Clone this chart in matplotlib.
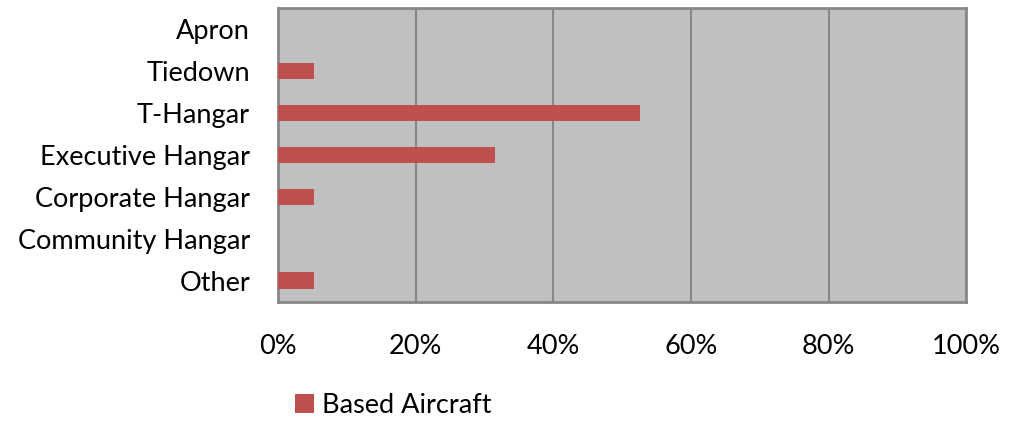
import numpy as np
import matplotlib.pyplot as plt
from matplotlib.ticker import PercentFormatter

# storage types, top to bottom
categories = ["Apron", "Tiedown", "T-Hangar", "Executive Hangar",
              "Corporate Hangar", "Community Hangar", "Other"]
based_aircraft = [0.0, 5.3, 52.6, 31.6, 5.3, 0.0, 5.3]
x_ticks = [0, 20, 40, 60, 80, 100]

plt.rcParams['font.family'] = ['Lato', 'DejaVu Sans']

fig = plt.figure(figsize=(10.14, 4.21), dpi=100)
ax = fig.add_axes([0.274, 0.283, 0.679, 0.698])

y = np.arange(len(categories))
ax.barh(y, based_aircraft, height=0.4, color='#C0504D', label='Based Aircraft', zorder=3)

ax.set_facecolor('#C0C0C0')
ax.set_xlim(0, 100)
ax.set_ylim(len(categories) - 0.5, -0.5)
ax.set_yticks(y)
ax.set_yticklabels(categories)
ax.set_xticks(x_ticks)
ax.xaxis.set_major_formatter(PercentFormatter(decimals=0))
ax.grid(axis='x', color='#878787', linewidth=1.5, zorder=1)
ax.tick_params(axis='both', length=0, labelsize=19.5, colors='black')
ax.tick_params(axis='y', pad=20)
ax.tick_params(axis='x', pad=23)
for s in ax.spines.values():
    s.set_color('#878787')
    s.set_linewidth(2)

fig.legend(loc='center left', bbox_to_anchor=(0.291, 0.038), frameon=False,
           fontsize=19.5, handlelength=0.7, handleheight=0.7, handletextpad=0.3,
           borderpad=0, borderaxespad=0)

fig.savefig('out.png', dpi=100)
